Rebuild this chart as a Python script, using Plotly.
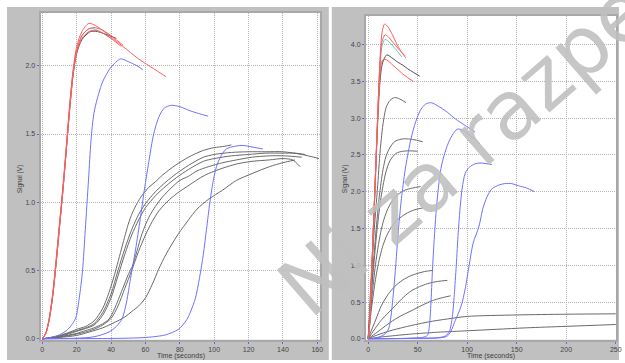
import plotly.graph_objects as go

W, H = 625, 363

# ---------------- LEFT PANEL DATA ----------------
L_RED1_T = [0, 2, 4, 6, 8, 10, 12, 14, 16, 18, 20, 23, 27, 30, 35, 40, 45, 50, 56, 62, 67, 72]
L_RED1_Y = [0, 0.04, 0.15, 0.33, 0.58, 0.85, 1.12, 1.42, 1.73, 1.98, 2.14, 2.25, 2.31, 2.30, 2.26, 2.21, 2.16, 2.11, 2.05, 2.0, 1.96, 1.92]
L_RED2_T = [0, 2, 4, 6, 8, 10, 12, 14, 16, 18, 20, 23, 27, 30, 35, 40, 44, 47]
L_RED2_Y = [0, 0.04, 0.14, 0.31, 0.55, 0.82, 1.09, 1.39, 1.70, 1.95, 2.11, 2.22, 2.27, 2.28, 2.26, 2.22, 2.18, 2.15]
L_RED3_T = [0, 2, 4, 6, 8, 10, 12, 14, 16, 18, 20, 23, 27, 30, 35, 40, 46]
L_RED3_Y = [0, 0.04, 0.15, 0.32, 0.56, 0.83, 1.10, 1.40, 1.71, 1.96, 2.10, 2.20, 2.25, 2.26, 2.24, 2.20, 2.14]
L_CYAN_T = [0, 2, 4, 6, 8, 10, 12, 14, 16, 18, 20, 23, 27, 30, 35, 40]
L_CYAN_Y = [0, 0.04, 0.14, 0.31, 0.55, 0.82, 1.09, 1.39, 1.70, 1.95, 2.11, 2.22, 2.27, 2.27, 2.24, 2.20]
L_DARK_T = [0, 2, 4, 6, 8, 10, 12, 14, 16, 18, 20, 23, 28, 32, 37, 43]
L_DARK_Y = [0, 0.04, 0.14, 0.31, 0.55, 0.82, 1.09, 1.39, 1.69, 1.94, 2.09, 2.19, 2.25, 2.25, 2.23, 2.20]

L_BLUE1_T = [0, 5, 10, 14, 17, 19.6, 21.5, 23.4, 25, 26.9, 28.3, 30, 32, 35, 37, 40, 45.6, 50, 55, 58.5]
L_BLUE1_Y = [0, 0.01, 0.03, 0.06, 0.10, 0.16, 0.30, 0.50, 0.80, 1.17, 1.45, 1.65, 1.76, 1.88, 1.93, 1.99, 2.05, 2.03, 2.00, 1.97]
L_BLUE2_T = [0, 20, 30, 38.8, 43, 46.5, 49, 51.3, 54.2, 57, 59, 62, 64.8, 68, 71, 75, 80, 86, 91, 96.5]
L_BLUE2_Y = [0, 0.005, 0.015, 0.05, 0.09, 0.15, 0.27, 0.44, 0.65, 0.88, 1.06, 1.30, 1.50, 1.63, 1.69, 1.71, 1.70, 1.67, 1.65, 1.63]
L_BLUE3_T = [0, 30, 50, 60, 67.7, 72, 79.2, 84, 88.9, 91.5, 93.7, 95.5, 97.5, 99.5, 101.3, 104, 107, 112, 116.7, 122, 128.3]
L_BLUE3_Y = [0, 0.002, 0.005, 0.01, 0.02, 0.03, 0.07, 0.14, 0.29, 0.45, 0.62, 0.80, 1.00, 1.16, 1.26, 1.34, 1.39, 1.41, 1.416, 1.405, 1.39]

L_BLK1_T = [0, 5, 10, 15, 20, 25, 30, 35, 38.8, 42, 46.5, 50, 52.3, 55, 58, 62, 65.8, 70, 77.3, 85, 93.7, 100, 106, 110]
L_BLK1_Y = [0, 0.01, 0.025, 0.045, 0.07, 0.09, 0.13, 0.22, 0.34, 0.47, 0.68, 0.84, 0.92, 0.99, 1.05, 1.11, 1.15, 1.20, 1.27, 1.33, 1.38, 1.40, 1.41, 1.42]
L_BLK2_T = [0, 5, 10, 15, 20, 25, 30, 35, 40, 44, 48, 52, 56, 60, 66, 72, 78, 85, 93.7, 100, 110, 120, 130, 140, 151, 161]
L_BLK2_Y = [0, 0.01, 0.02, 0.04, 0.06, 0.08, 0.11, 0.19, 0.33, 0.50, 0.66, 0.80, 0.91, 0.99, 1.08, 1.15, 1.21, 1.27, 1.33, 1.35, 1.365, 1.37, 1.37, 1.37, 1.35, 1.32]
L_BLK3_T = [0, 5, 10, 15, 20, 25, 30, 35, 40, 44, 48, 52, 56, 60, 66, 72, 78, 85, 93.7, 100, 110, 120, 130, 140, 147, 153]
L_BLK3_Y = [0, 0.01, 0.02, 0.035, 0.055, 0.075, 0.10, 0.17, 0.30, 0.46, 0.62, 0.76, 0.87, 0.96, 1.05, 1.12, 1.18, 1.24, 1.30, 1.32, 1.34, 1.35, 1.36, 1.36, 1.36, 1.35]
L_BLK4_T = [0, 10, 20, 25, 30, 35, 38.8, 42, 46.5, 50, 52.3, 55, 58, 62, 65.8, 70, 75.4, 80, 85, 90, 96.5, 105, 112.9, 122, 132, 141, 151]
L_BLK4_Y = [0, 0.015, 0.04, 0.06, 0.08, 0.11, 0.145, 0.22, 0.36, 0.47, 0.53, 0.64, 0.77, 0.89, 0.97, 1.04, 1.11, 1.16, 1.19, 1.23, 1.26, 1.29, 1.31, 1.33, 1.34, 1.34, 1.33]
L_BLK5_T = [0, 10, 20, 25, 30, 35, 40, 44, 48, 52, 56, 60, 64, 68, 74, 80, 86, 92, 96.5, 105, 112.9, 122, 132, 140, 145.6, 150]
L_BLK5_Y = [0, 0.013, 0.035, 0.05, 0.07, 0.10, 0.15, 0.24, 0.37, 0.50, 0.64, 0.76, 0.86, 0.94, 1.02, 1.08, 1.13, 1.18, 1.21, 1.25, 1.28, 1.30, 1.31, 1.32, 1.31, 1.26]
L_BLK6_T = [0, 10, 20, 27.3, 35, 42, 48, 52, 56, 60, 64, 67.7, 72, 79.2, 85, 90, 96.5, 105, 112.9, 122, 132, 140, 147]
L_BLK6_Y = [0, 0.01, 0.025, 0.05, 0.08, 0.12, 0.16, 0.20, 0.24, 0.30, 0.40, 0.51, 0.62, 0.77, 0.87, 0.95, 1.02, 1.09, 1.16, 1.21, 1.26, 1.29, 1.31]

# ---------------- RIGHT PANEL DATA ----------------
R_RED1_T = [0, 1, 2, 3, 4, 5, 6, 7, 8, 9, 10, 11, 12, 13, 14, 16, 17, 20, 25, 30, 34, 38]
R_RED1_Y = [0, 0.1, 0.35, 0.7, 1.05, 1.4, 1.75, 2.1, 2.45, 2.8, 3.15, 3.5, 3.8, 4.02, 4.16, 4.27, 4.28, 4.24, 4.12, 3.98, 3.89, 3.82]
R_RED2_T = [0, 1, 2, 3, 4, 5, 6, 7, 8, 9, 10, 11, 12, 13, 14, 17, 20, 25, 30, 37]
R_RED2_Y = [0, 0.1, 0.35, 0.7, 1.05, 1.4, 1.75, 2.1, 2.45, 2.8, 3.15, 3.48, 3.75, 3.93, 4.04, 4.13, 4.11, 4.03, 3.95, 3.85]
R_CYAN_T = [0, 1, 2, 3, 4, 5, 6, 7, 8, 9, 10, 11, 12, 13, 14, 17, 20, 25, 30, 34]
R_CYAN_Y = [0, 0.1, 0.35, 0.7, 1.05, 1.4, 1.75, 2.1, 2.45, 2.8, 3.14, 3.45, 3.7, 3.88, 3.98, 4.07, 4.05, 3.98, 3.90, 3.83]
R_DARK_T = [0, 1, 2, 3, 4, 5, 6, 7, 8, 9, 10, 11, 12, 14, 17, 19, 25, 30, 35, 40, 46, 52]
R_DARK_Y = [0, 0.1, 0.34, 0.68, 1.02, 1.36, 1.7, 2.04, 2.38, 2.72, 3.04, 3.3, 3.5, 3.72, 3.83, 3.86, 3.81, 3.76, 3.72, 3.67, 3.62, 3.57]
R_RED3_T = [0, 1, 2, 3, 4, 5, 6, 7, 8, 9, 10, 11, 12, 13, 14, 17, 20, 25, 30, 35, 40, 45.6]
R_RED3_Y = [0, 0.1, 0.35, 0.7, 1.05, 1.4, 1.75, 2.1, 2.45, 2.8, 3.12, 3.4, 3.6, 3.72, 3.78, 3.80, 3.78, 3.72, 3.66, 3.60, 3.55, 3.50]

R_K1_T = [0, 1, 2, 3.3, 5, 6.5, 8.3, 10, 11.5, 13.3, 15, 18.3, 22, 26.7, 32, 38.3]
R_K1_Y = [0, 0.25, 0.55, 0.88, 1.25, 1.55, 1.85, 2.15, 2.45, 2.72, 2.92, 3.15, 3.24, 3.28, 3.26, 3.21]
R_K2_T = [0, 1, 2, 3, 5, 7, 9, 11, 13, 15, 18, 22, 26.7, 32, 37, 45, 55]
R_K2_Y = [0, 0.2, 0.42, 0.62, 0.98, 1.32, 1.62, 1.9, 2.12, 2.3, 2.48, 2.6, 2.68, 2.71, 2.72, 2.71, 2.68]
R_K3_T = [0, 1, 2, 3, 5, 7, 9, 11, 13, 15, 18, 22, 28, 35, 42, 50]
R_K3_Y = [0, 0.18, 0.38, 0.56, 0.9, 1.2, 1.48, 1.72, 1.92, 2.08, 2.27, 2.42, 2.52, 2.55, 2.555, 2.55]
R_K4_T = [0, 1, 2, 3, 5, 7, 9, 12, 15, 19, 24, 30, 37, 45, 53]
R_K4_Y = [0, 0.14, 0.3, 0.45, 0.72, 0.96, 1.16, 1.4, 1.58, 1.74, 1.87, 1.96, 2.02, 2.05, 2.07]
R_K5_T = [0, 1, 2, 3, 5, 7, 9, 12, 15, 19, 24, 30, 38, 46, 55]
R_K5_Y = [0, 0.12, 0.25, 0.37, 0.58, 0.77, 0.93, 1.12, 1.27, 1.41, 1.53, 1.62, 1.7, 1.75, 1.78]

R_S1_T = [0, 2, 5, 8, 13.3, 20, 26.7, 35, 43.3, 50, 57, 65]
R_S1_Y = [0, 0.07, 0.17, 0.27, 0.45, 0.6, 0.71, 0.8, 0.86, 0.89, 0.915, 0.93]
R_S2_T = [0, 3, 7, 13, 20, 28, 36, 43.3, 52, 60, 70, 80]
R_S2_Y = [0, 0.06, 0.14, 0.25, 0.35, 0.46, 0.57, 0.65, 0.71, 0.75, 0.78, 0.795]
R_S3_T = [0, 5, 10, 20, 30, 43.3, 55, 65, 75, 83.3]
R_S3_Y = [0, 0.05, 0.1, 0.2, 0.29, 0.38, 0.46, 0.52, 0.56, 0.585]
R_S4_T = [0, 5, 13, 25, 43, 65, 80, 100, 150, 200, 250]
R_S4_Y = [0, 0.03, 0.07, 0.12, 0.18, 0.24, 0.27, 0.305, 0.325, 0.335, 0.34]
R_S5_T = [0, 10, 20, 43, 70, 100, 130, 160, 200, 250]
R_S5_Y = [0, 0.02, 0.035, 0.065, 0.09, 0.11, 0.13, 0.15, 0.17, 0.195]

R_B1_T = [0, 5, 10, 14, 18, 21, 23, 25, 27, 29, 31, 34, 38, 43.3, 48, 53.3, 58, 63.3, 70, 80, 88, 98, 108]
R_B1_Y = [0, 0.005, 0.02, 0.04, 0.08, 0.15, 0.3, 0.55, 0.85, 1.2, 1.55, 1.95, 2.35, 2.72, 2.95, 3.12, 3.19, 3.21, 3.17, 3.08, 2.99, 2.9, 2.81]
R_B2_T = [0, 20, 40, 55, 60, 61.7, 63.3, 65, 66.7, 68.5, 70.5, 74, 80, 85, 90, 95, 100, 106, 113]
R_B2_Y = [0, 0.003, 0.008, 0.02, 0.05, 0.16, 0.45, 0.95, 1.35, 1.7, 2.0, 2.35, 2.63, 2.77, 2.85, 2.84, 2.79, 2.73, 2.65]
R_B3_T = [0, 40, 70, 78, 82, 85, 87, 89, 91, 93, 95, 98, 102, 108, 114, 120, 125]
R_B3_Y = [0, 0.005, 0.015, 0.04, 0.1, 0.3, 0.6, 1.0, 1.45, 1.8, 2.05, 2.25, 2.33, 2.38, 2.39, 2.38, 2.37]
R_B4_T = [0, 50, 80, 88, 94, 98, 102, 106, 111.7, 116, 120, 125, 132, 138, 145, 152, 160, 168]
R_B4_Y = [0, 0.01, 0.04, 0.25, 0.45, 0.68, 1.0, 1.3, 1.52, 1.78, 1.93, 2.04, 2.09, 2.11, 2.11, 2.08, 2.05, 2.0]

L_XTICKS = [0, 20, 40, 60, 80, 100, 120, 140, 160]
L_YTICKS = [0.0, 0.5, 1.0, 1.5, 2.0]
R_XTICKS = [0, 50, 100, 150, 200, 250]
R_YTICKS = [0.0, 0.5, 1.0, 1.5, 2.0, 2.5, 3.0, 3.5, 4.0]

WATERMARK = "Ni za razpečevanje"

RED = "#ff5c5c"
BLUE = "#7070ff"
GREY = "#6a6a6a"
CYAN = "#50cccc"
DARK = "#505050"

fig = go.Figure()

def add(t, y, color, xa, ya, w=1.0):
    fig.add_trace(go.Scatter(x=t, y=y, mode="lines", xaxis=xa, yaxis=ya,
                             line=dict(color=color, width=w, shape="spline", smoothing=0.8),
                             hoverinfo="skip", showlegend=False))

# left panel
for t, y in [(L_BLK1_T, L_BLK1_Y), (L_BLK2_T, L_BLK2_Y), (L_BLK3_T, L_BLK3_Y),
             (L_BLK4_T, L_BLK4_Y), (L_BLK5_T, L_BLK5_Y), (L_BLK6_T, L_BLK6_Y)]:
    add(t, y, GREY, "x", "y")
for t, y in [(L_BLUE1_T, L_BLUE1_Y), (L_BLUE2_T, L_BLUE2_Y), (L_BLUE3_T, L_BLUE3_Y)]:
    add(t, y, BLUE, "x", "y")
add(L_DARK_T, L_DARK_Y, DARK, "x", "y")
add(L_CYAN_T, L_CYAN_Y, CYAN, "x", "y")
for t, y in [(L_RED1_T, L_RED1_Y), (L_RED2_T, L_RED2_Y), (L_RED3_T, L_RED3_Y)]:
    add(t, y, RED, "x", "y")

# right panel
for t, y in [(R_S1_T, R_S1_Y), (R_S2_T, R_S2_Y), (R_S3_T, R_S3_Y), (R_S4_T, R_S4_Y), (R_S5_T, R_S5_Y),
             (R_K1_T, R_K1_Y), (R_K2_T, R_K2_Y), (R_K3_T, R_K3_Y), (R_K4_T, R_K4_Y), (R_K5_T, R_K5_Y)]:
    add(t, y, GREY, "x2", "y2")
for t, y in [(R_B1_T, R_B1_Y), (R_B2_T, R_B2_Y), (R_B3_T, R_B3_Y), (R_B4_T, R_B4_Y)]:
    add(t, y, BLUE, "x2", "y2")
add(R_DARK_T, R_DARK_Y, DARK, "x2", "y2")
add(R_CYAN_T, R_CYAN_Y, CYAN, "x2", "y2")
for t, y in [(R_RED1_T, R_RED1_Y), (R_RED2_T, R_RED2_Y), (R_RED3_T, R_RED3_Y)]:
    add(t, y, RED, "x2", "y2")

def px(x):
    return x / W

def py(y):
    return 1 - y / H

FONT = "Liberation Sans, Arial, sans-serif"
axis_common = dict(showgrid=True, gridcolor="#b4b4b4", griddash="1px,1px", gridwidth=1,
                   zeroline=False, showline=True, mirror=True, linecolor="#a8a8a8", linewidth=2,
                   ticks="outside", ticklen=2, tickcolor="#6060ff", tickwidth=1,
                   tickfont=dict(family=FONT, size=7, color="#454545"), fixedrange=True)

L_BOX = (41, 323, 12.7, 342.5)
R_BOX = (369.5, 622, 15.7, 342.5)

fig.update_layout(
    width=W, height=H, margin=dict(l=0, r=0, t=0, b=0),
    paper_bgcolor="white", plot_bgcolor="white",
    xaxis=dict(domain=[px(L_BOX[0]), px(L_BOX[1])], range=[-1, 161.5], tickvals=L_XTICKS,
               anchor="y", **axis_common),
    yaxis=dict(domain=[py(L_BOX[3]), py(L_BOX[2])], range=[-0.006, 2.389], tickvals=L_YTICKS,
               tickformat=".1f", anchor="x", **axis_common),
    xaxis2=dict(domain=[px(R_BOX[0]), px(R_BOX[1])], range=[-2.2, 250.3], tickvals=R_XTICKS,
                anchor="y2", **axis_common),
    yaxis2=dict(domain=[py(R_BOX[3]), py(R_BOX[2])], range=[-0.011, 4.394], tickvals=R_YTICKS,
                tickformat=".1f", anchor="x2", **axis_common),
    shapes=[
        dict(type="rect", xref="paper", yref="paper", x0=px(7), x1=px(332), y0=0, y1=py(7),
             fillcolor="#c0c0c0", line=dict(width=0), layer="below"),
        dict(type="rect", xref="paper", yref="paper", x0=px(335), x1=1, y0=0, y1=py(7),
             fillcolor="#c0c0c0", line=dict(width=0), layer="below"),
        dict(type="rect", xref="paper", yref="paper", x0=px(L_BOX[0]), x1=px(L_BOX[1]),
             y0=py(L_BOX[3]), y1=py(L_BOX[2]), fillcolor="white", line=dict(width=0), layer="below"),
        dict(type="rect", xref="paper", yref="paper", x0=px(R_BOX[0]), x1=px(R_BOX[1]),
             y0=py(R_BOX[3]), y1=py(R_BOX[2]), fillcolor="white", line=dict(width=0), layer="below"),
    ],
    annotations=[
        dict(text="Signal (V)", xref="paper", yref="paper", x=px(20), y=py(180), textangle=-90,
             showarrow=False, font=dict(family=FONT, size=6.5, color="#404040"),
             xanchor="center", yanchor="middle"),
        dict(text="Time (seconds)", xref="paper", yref="paper", x=px(183), y=py(358.5),
             showarrow=False, font=dict(family=FONT, size=7, color="#404040"),
             xanchor="center", yanchor="middle"),
        dict(text="Signal (V)", xref="paper", yref="paper", x=px(348), y=py(180), textangle=-90,
             showarrow=False, font=dict(family=FONT, size=6.5, color="#404040"),
             xanchor="center", yanchor="middle"),
        dict(text="Time (seconds)", xref="paper", yref="paper", x=px(496), y=py(358.5),
             showarrow=False, font=dict(family=FONT, size=7, color="#404040"),
             xanchor="center", yanchor="middle"),
        dict(text=WATERMARK, xref="paper", yref="paper", x=px(591), y=py(44),
             textangle=-41, showarrow=False,
             font=dict(family="DejaVu Sans, Verdana, sans-serif", size=82,
                       color="rgba(190,190,190,0.88)"),
             xanchor="center", yanchor="middle"),
    ],
)

fig.write_html("out.html", config={"displayModeBar": False},
               post_script="document.body.style.margin='0px';document.body.style.overflow='hidden';")
